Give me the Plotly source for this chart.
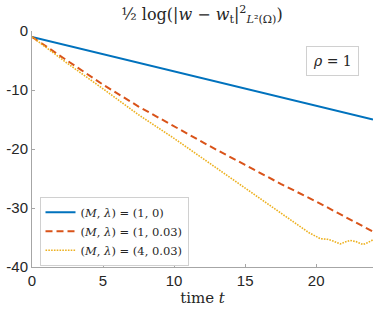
import plotly.graph_objects as go

# data
t_blue = [0, 24]
v_blue = [-1.0, -15.0]

t_red = [0, 2.5, 5, 7.5, 10, 12.5, 15, 17.5, 20, 22, 24]
v_red = [-1.0, -5.1, -9.1, -12.8, -16.2, -19.5, -22.7, -25.9, -28.9, -31.5, -34.0]

t_yel = [0, 2.5, 5, 7.5, 10, 12.5, 15, 17.5, 18.5, 19.5, 20.3, 20.8, 21.2, 21.7,
         22.0, 22.4, 22.8, 23.3, 23.6, 24.0]
v_yel = [-1.0, -5.5, -9.8, -14.2, -18.2, -22.4, -26.6, -30.8, -32.6, -34.2, -35.2,
         -35.3, -35.6, -36.1, -35.8, -35.5, -35.7, -36.2, -35.9, -35.4]

x_ticks = [0, 5, 10, 15, 20]
y_ticks = [0, -10, -20, -30, -40]
y_ticktext = ["0", "-10", "-20", "-30", "-40"]

names = ["(<i>M</i>, <i>λ</i>) = (1, 0)",
         "(<i>M</i>, <i>λ</i>) = (1, 0.03)",
         "(<i>M</i>, <i>λ</i>) = (4, 0.03)"]

fig = go.Figure()
fig.add_trace(go.Scatter(x=t_blue, y=v_blue, mode="lines", name=names[0],
                         line=dict(color="#0072BD", width=2)))
fig.add_trace(go.Scatter(x=t_red, y=v_red, mode="lines", name=names[1],
                         line=dict(color="#D95319", width=2, dash="7px,4px")))
fig.add_trace(go.Scatter(x=t_yel, y=v_yel, mode="lines", name=names[2],
                         line=dict(color="#EDB120", width=1.6, dash="1.6px,1.2px")))

axis_common = dict(showgrid=False, zeroline=False, showline=True, linecolor="#a6a6a6",
                   linewidth=1, ticks="inside", ticklen=3, tickcolor="#a6a6a6",
                   automargin=False,
                   tickfont=dict(family="Liberation Sans, Arial", size=15, color="#262626"))

fig.update_xaxes(range=[0, 24], tickvals=x_ticks, **axis_common,
                 title=dict(text="time <i>t</i>", font=dict(family="DejaVu Serif", size=15, color="#262626"),
                            standoff=2))
fig.update_yaxes(range=[-40, 0], tickvals=y_ticks, ticktext=y_ticktext, **axis_common)

fig.update_layout(
    width=374, height=312,
    margin=dict(l=32, r=1, t=31, b=45),
    paper_bgcolor="white", plot_bgcolor="white",
    title=dict(text="½ log(|<i>w</i> − <i>w</i><sub>t</sub>|<sup>2</sup><sub><i>L</i>²(Ω)</sub>)",
               x=0.54, xanchor="center", y=0.955, yanchor="middle",
               font=dict(family="DejaVu Serif", size=16, color="#262626")),
    legend=dict(x=0.022, y=0.005, xanchor="left", yanchor="bottom",
                bgcolor="white", bordercolor="#d0d0d0", borderwidth=1,
                font=dict(family="DejaVu Serif", size=11.5, color="#262626"),
                tracegroupgap=0, itemwidth=30),
    showlegend=True,
    annotations=[dict(text="<i>ρ</i> = 1", x=0.882, y=0.875, xref="paper", yref="paper",
                      xanchor="center", yanchor="middle",
                      showarrow=False, bordercolor="#d0d0d0", borderwidth=1, borderpad=6,
                      bgcolor="white",
                      font=dict(family="DejaVu Serif", size=14, color="#262626"))],
)

fig.write_html("out.html", config={"displayModeBar": False},
               post_script="document.body.style.margin='0';document.body.style.overflow='hidden';")
